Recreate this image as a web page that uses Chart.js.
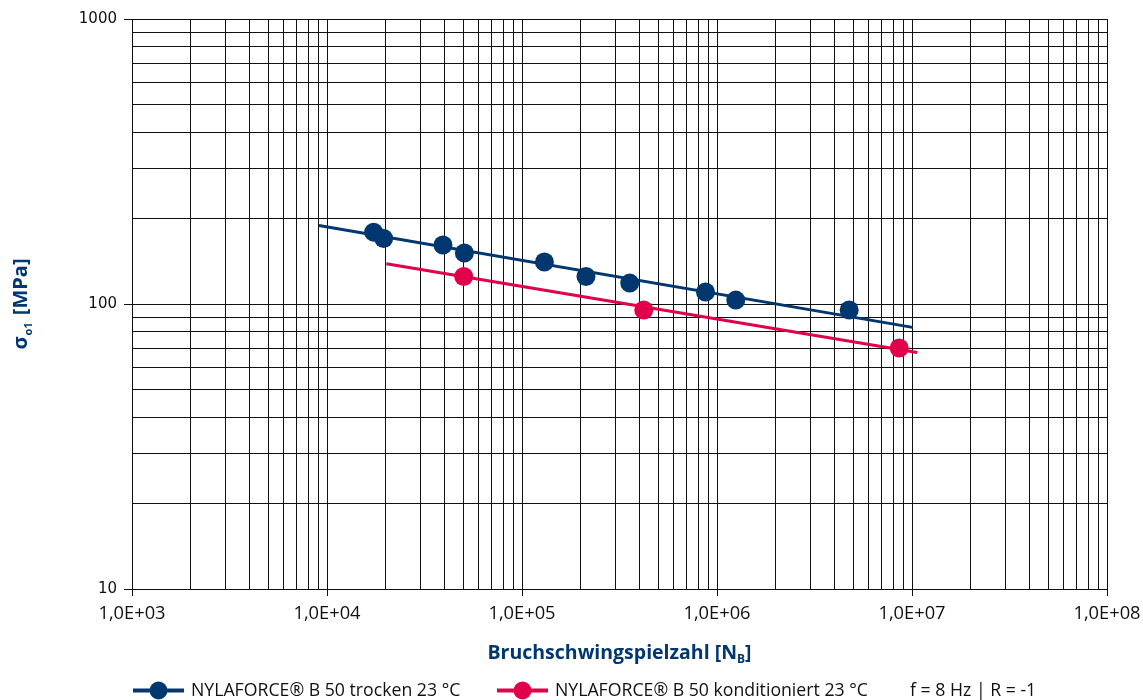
<!DOCTYPE html>
<html>
<head>
<meta charset="utf-8">
<script src="https://cdn.jsdelivr.net/npm/chart.js@4/dist/chart.umd.min.js"></script>
<style>
  html, body { margin: 0; padding: 0; background: #fff; }
  #wrap { width: 1143px; height: 700px; position: relative; }
</style>
</head>
<body>
<div id="wrap"><canvas id="chart_canvas"></canvas></div>
<script>
// values
const trockenN = [17350, 19520, 39330, 50640, 130300, 212900, 356900, 873000, 1249000, 4762000];
const trockenS = [178.7, 169.8, 161.0, 150.9, 140.3, 124.9, 118.4, 110.1, 103.2, 95.2];
const kondN = [50230, 421000, 8600000];
const kondS = [124.9, 95.2, 70.1];
const trockenFitN = [9090, 10070000];
const trockenFitS = [188.6, 82.8];
const kondFitN = [20150, 10630000];
const kondFitS = [138.4, 67.6];

const xDecades = [1e3, 1e4, 1e5, 1e6, 1e7, 1e8];
const yDecades = [10, 100, 1000];

const legendLabels = ['NYLAFORCE\u00AE B 50 trocken 23 \u00B0C', 'NYLAFORCE\u00AE B 50 konditioniert 23 \u00B0C'];
const noteText = 'f = 8 Hz | R = -1';
const xTitle = 'Bruchschwingspielzahl [N';
const xTitleSub = 'B';
const yTitle = '\u03C3';
const yTitleSub = 'o1';
const yTitleUnit = ' [MPa]';

const BLUE = '#00376f';
const RED = '#e2004b';
const TXT = "'Open Sans', 'Noto Sans', sans-serif";

function toPts(xs, ys) {
    return xs.map(function (v, i) { return {x: v, y: ys[i]}; });
}

// log grid ticks 1..9 per decade
function logTicks(decades) {
    var t = [];
    for (var i = 0; i < decades.length - 1; i++) {
        for (var k = 1; k < 10; k++) t.push({value: decades[i] * k});
    }
    t.push({value: decades[decades.length - 1]});
    return t;
}

function isDecade(v) {
    var l = Math.log10(v);
    return Math.abs(l - Math.round(l)) < 1e-9;
}

function xLabel(v) {
    var e = Math.round(Math.log10(v));
    return '1,0E+' + (e < 10 ? '0' : '') + e;
}

const titlesAndLegend = {
    id: 'titlesAndLegend',
    afterDraw: function (chart) {
        var c = chart.ctx;
        var area = chart.chartArea;
        c.save();

        // x axis title with subscript
        c.fillStyle = BLUE;
        c.textBaseline = 'alphabetic';
        c.font = "bold 19.5px " + TXT;
        var w1 = c.measureText(xTitle).width;
        c.font = "bold 12px " + TXT;
        var w2 = c.measureText(xTitleSub).width;
        c.font = "bold 19.5px " + TXT;
        var w3 = c.measureText(']').width;
        var x0 = (area.left + area.right) / 2 - (w1 + w2 + w3) / 2;
        var by = 659;
        c.textAlign = 'left';
        c.fillText(xTitle, x0, by);
        c.font = "bold 12px " + TXT;
        c.fillText(xTitleSub, x0 + w1, by + 4);
        c.font = "bold 19.5px " + TXT;
        c.fillText(']', x0 + w1 + w2, by);

        // y axis title, rotated
        c.save();
        c.translate(27, (area.top + area.bottom) / 2);
        c.rotate(-Math.PI / 2);
        c.font = "bold 20px " + TXT;
        var a1 = c.measureText(yTitle).width;
        var a3 = c.measureText(yTitleUnit).width;
        c.font = "bold 11px " + TXT;
        var a2 = c.measureText(yTitleSub).width + 3;
        var s0 = -(a1 + a2 + a3) / 2;
        c.font = "bold 20px " + TXT;
        c.fillText(yTitle, s0, 0);
        c.font = "bold 11px " + TXT;
        c.fillText(yTitleSub, s0 + a1 + 1, 5);
        c.font = "bold 20px " + TXT;
        c.fillText(yTitleUnit, s0 + a1 + a2, 0);
        c.restore();

        // legend
        var ly = 690.5;
        var items = [{x: 133, col: BLUE, text: legendLabels[0]}, {x: 497, col: RED, text: legendLabels[1]}];
        c.font = "17.7px " + TXT;
        c.textBaseline = 'middle';
        items.forEach(function (it) {
            c.strokeStyle = it.col;
            c.lineWidth = 4;
            c.beginPath();
            c.moveTo(it.x, ly);
            c.lineTo(it.x + 51, ly);
            c.stroke();
            c.fillStyle = it.col;
            c.beginPath();
            c.arc(it.x + 25.5, ly, 9, 0, Math.PI * 2);
            c.fill();
            c.fillStyle = '#111';
            c.fillText(it.text, it.x + 58, ly);
        });
        c.fillStyle = '#111';
        c.fillText(noteText, 910, ly);
        c.restore();
    }
};

const ctx = document.getElementById('chart_canvas');

var chartDraw = new Chart(ctx, {
    type: 'scatter',
    data: {
        datasets: [
            {
                label: legendLabels[0] + ' fit',
                data: toPts(trockenFitN, trockenFitS),
                showLine: true,
                borderColor: BLUE,
                borderWidth: 3,
                pointRadius: 0,
                order: 3
            },
            {
                label: legendLabels[1] + ' fit',
                data: toPts(kondFitN, kondFitS),
                showLine: true,
                borderColor: RED,
                borderWidth: 3,
                pointRadius: 0,
                order: 3
            },
            {
                label: legendLabels[0],
                data: toPts(trockenN, trockenS),
                backgroundColor: BLUE,
                borderColor: BLUE,
                borderWidth: 0,
                pointRadius: 9.5,
                order: 1
            },
            {
                label: legendLabels[1],
                data: toPts(kondN, kondS),
                backgroundColor: RED,
                borderColor: RED,
                borderWidth: 0,
                pointRadius: 9.5,
                order: 2
            }
        ]
    },
    options: {
        responsive: true,
        maintainAspectRatio: false,
        animation: false,
        layout: {padding: {top: 19, right: 36, left: 0, bottom: 0}},
        plugins: {
            legend: {display: false},
            tooltip: {enabled: false}
        },
        scales: {
            x: {
                type: 'logarithmic',
                min: 1e3,
                max: 1e8,
                afterBuildTicks: function (axis) { axis.ticks = logTicks(xDecades); },
                afterFit: function (axis) {
                    axis.height = 111;
                    axis.paddingRight = 0;
                    axis.paddingLeft = 0;
                },
                grid: {
                    color: '#111',
                    lineWidth: 1,
                    tickLength: 7,
                    tickColor: function (c) { return isDecade(c.tick.value) ? '#111' : 'rgba(0,0,0,0)'; }
                },
                border: {color: '#111', width: 1},
                ticks: {
                    autoSkip: false,
                    maxRotation: 0,
                    padding: 7,
                    color: '#111',
                    font: {family: TXT, size: 18.3},
                    callback: function (v) { return isDecade(v) ? xLabel(v) : ''; }
                }
            },
            y: {
                type: 'logarithmic',
                min: 10,
                max: 1000,
                afterBuildTicks: function (axis) { axis.ticks = logTicks(yDecades); },
                afterFit: function (axis) { axis.width = 132; },
                grid: {
                    color: '#111',
                    lineWidth: 1,
                    tickLength: 8,
                    tickColor: function (c) { return isDecade(c.tick.value) ? '#111' : 'rgba(0,0,0,0)'; }
                },
                border: {color: '#111', width: 1},
                ticks: {
                    autoSkip: false,
                    padding: 7,
                    color: '#111',
                    font: {family: "'DejaVu Sans', sans-serif", size: 15},
                    callback: function (v) { return isDecade(v) ? String(v) : ''; }
                }
            }
        }
    },
    plugins: [titlesAndLegend]
});
</script>
</body>
</html>
